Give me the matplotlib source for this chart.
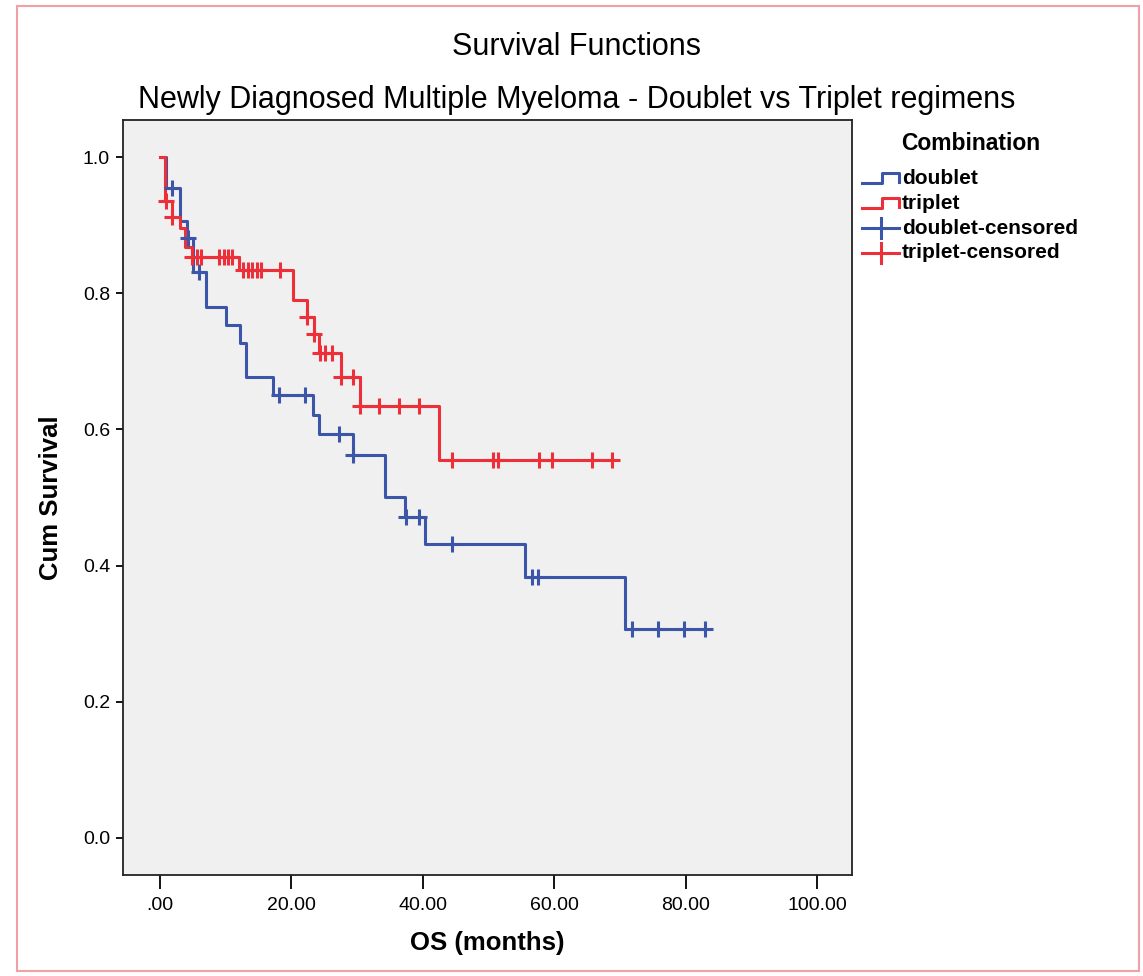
import numpy as np
from matplotlib import pyplot as plt

plt.rcParams['font.family'] = ['Liberation Sans', 'DejaVu Sans']

# Kaplan-Meier steps (months, cumulative survival)
doublet_times = [0, 0.9, 3.1, 4.1, 5.1, 7.0, 10.0, 12.2, 13.1, 17.2, 23.3, 24.2,
                 29.3, 34.2, 37.3, 40.4, 55.5, 70.8]
doublet_surv = [1.0, 0.955, 0.907, 0.882, 0.831, 0.780, 0.754, 0.727, 0.677, 0.651,
                0.621, 0.593, 0.563, 0.500, 0.471, 0.431, 0.383, 0.306]
doublet_cens = [1.9, 4.2, 6.0, 18.1, 22.1, 27.3, 29.4, 37.4, 39.4, 44.4, 56.6, 57.5,
                71.8, 75.8, 79.8, 82.9]

triplet_times = [0, 0.8, 1.8, 3.1, 3.8, 4.8, 12.1, 20.3, 22.3, 23.4, 24.2, 27.5,
                 30.4, 42.4]
triplet_surv = [1.0, 0.936, 0.912, 0.896, 0.868, 0.854, 0.835, 0.790, 0.766, 0.740,
                0.712, 0.677, 0.634, 0.555]
triplet_cens = [0.9, 1.9, 4.9, 5.6, 6.3, 9.0, 9.7, 10.4, 11.0, 12.7, 13.4, 14.0,
                14.7, 15.4, 18.3, 22.4, 23.5, 24.3, 25.1, 26.2, 27.6, 29.3, 30.5,
                33.4, 36.4, 39.4, 44.4, 50.6, 51.4, 57.7, 59.6, 65.8, 68.8]

x_ticks = [0, 20, 40, 60, 80, 100]
x_tick_labels = ['.00', '20.00', '40.00', '60.00', '80.00', '100.00']
y_ticks = [0.0, 0.2, 0.4, 0.6, 0.8, 1.0]
y_tick_labels = ['0.0', '0.2', '0.4', '0.6', '0.8', '1.0']

BLUE = '#3b55a8'
RED = '#ec2f38'
W, H = 1143, 976


def step_xy(times, surv, cens):
    x = list(times) + [max(cens[-1], times[-1])]
    y = list(surv) + [surv[-1]]
    return x, y


def cens_y(times, surv, cens):
    idx = np.searchsorted(times, cens, side='right') - 1
    return np.array(surv)[idx]


fig = plt.figure(figsize=(W / 100, H / 100), dpi=100)

# background canvas in pixel coordinates (border, titles, legend)
bg = fig.add_axes([0, 0, 1, 1])
bg.set_xlim(0, W)
bg.set_ylim(H, 0)
bg.axis('off')
bg.add_patch(plt.Rectangle((17, 6), 1122, 965, fill=False, edgecolor='#f2a0a8', linewidth=1.5))

bg.text(577, 47, 'Survival Functions', ha='center', va='center', fontsize=22)
bg.text(577, 100, 'Newly Diagnosed Multiple Myeloma - Doublet vs Triplet regimens',
        ha='center', va='center', fontsize=22)

# plot area
left, right, top, bottom = 122.5, 852, 120, 875
ax = fig.add_axes([left / W, 1 - bottom / H, (right - left) / W, (bottom - top) / H])
ax.set_facecolor('#f0f0f0')
for s in ax.spines.values():
    s.set_color('#222222')
    s.set_linewidth(1.3)

dx, dy = step_xy(doublet_times, doublet_surv, doublet_cens)
tx, ty = step_xy(triplet_times, triplet_surv, triplet_cens)
ax.step(dx, dy, where='post', color=BLUE, linewidth=2.2)
ax.step(tx, ty, where='post', color=RED, linewidth=2.2)
ax.plot(doublet_cens, cens_y(doublet_times, doublet_surv, doublet_cens), '+',
        color=BLUE, markersize=11, markeredgewidth=2.2)
ax.plot(triplet_cens, cens_y(triplet_times, triplet_surv, triplet_cens), '+',
        color=RED, markersize=11, markeredgewidth=2.2)

ax.set_xlim(-5.7, 105.3)
ax.set_ylim(-0.055, 1.055)
ax.set_xticks(x_ticks)
ax.set_xticklabels(x_tick_labels)
ax.set_yticks(y_ticks)
ax.set_yticklabels(y_tick_labels)
ax.tick_params(axis='x', direction='out', length=10, width=1.3, pad=6, labelsize=14)
ax.tick_params(axis='y', direction='out', length=5, width=1.3, pad=4, labelsize=14)
ax.set_xlabel('OS (months)', fontsize=18.5, fontweight='bold', labelpad=12)
ax.set_ylabel('Cum Survival', fontsize=18.5, fontweight='bold', labelpad=14)

# legend
bg.text(901, 144, 'Combination', ha='left', va='center', fontsize=16.5, fontweight='bold')
rows = [('doublet', BLUE, 'step'), ('triplet', RED, 'step'),
        ('doublet-censored', BLUE, 'cens'), ('triplet-censored', RED, 'cens')]
for i, (name, col, kind) in enumerate(rows):
    yc = 179 + 24.5 * i
    if kind == 'step':
        bg.plot([862, 882, 882, 899, 899], [yc + 4, yc + 4, yc - 6, yc - 6, yc + 3],
                color=col, linewidth=2.2)
    else:
        bg.plot([862, 899], [yc, yc], color=col, linewidth=2.2)
        bg.plot([881, 881], [yc - 10, yc + 10], color=col, linewidth=2.2)
    bg.text(902, yc, name, ha='left', va='center', fontsize=15, fontweight='bold')

fig.savefig('out.png', dpi=100)
